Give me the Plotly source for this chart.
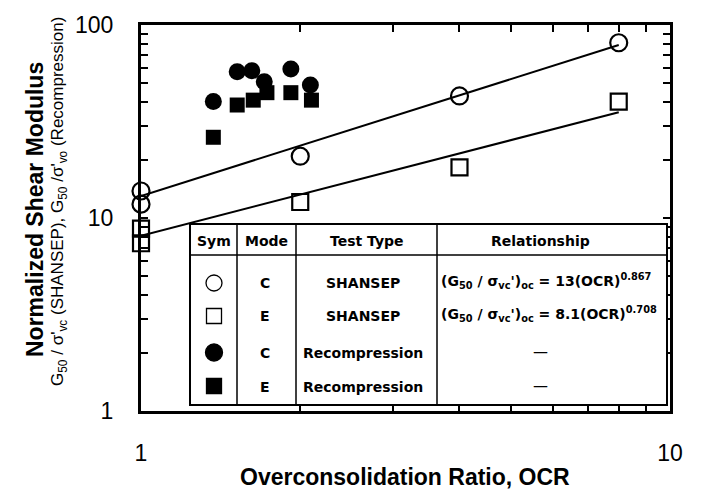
import plotly.graph_objects as go

# ---------------- data ----------------
ocr_shansep_c = [1, 1, 2, 4, 8]
g_shansep_c = [13.8, 11.8, 20.9, 42.9, 80.9]
ocr_shansep_e = [1, 1, 2, 4, 8]
g_shansep_e = [8.8, 7.4, 12.1, 18.3, 40.1]
ocr_recomp_c = [1.37, 1.52, 1.62, 1.71, 1.92, 2.09]
g_recomp_c = [40.1, 57.3, 58.0, 50.8, 59.2, 48.9]
ocr_recomp_e = [1.37, 1.52, 1.63, 1.73, 1.92, 2.10]
g_recomp_e = [26.2, 38.5, 40.8, 44.6, 44.6, 40.8]
fit_ocr = [1, 8]
fit_c = [13.0, 78.8]
fit_e = [8.1, 35.3]

x_tickvals = [1, 2, 3, 4, 5, 6, 7, 8, 9, 10]
x_ticktext = ["1", "", "", "", "", "", "", "", "", "10"]
y_tickvals = [1, 2, 3, 4, 5, 6, 7, 8, 9, 10, 20, 30, 40, 50, 60, 70, 80, 90, 100]
y_ticktext = ["1"] + [""] * 8 + ["10"] + [""] * 8 + ["100"]

# ---------------- layout helpers ----------------
OFF = 8  # page body margin
W, H = 702 - OFF, 492 - OFF
L, R, T, B = 141, 670, 25, 411  # plot area in window pixels


def px(x):
    return (x - L) / (R - L)


def py(y):
    return (B - y) / (B - T)


fig = go.Figure()
fig.add_trace(go.Scatter(x=fit_ocr, y=fit_c, mode="lines",
                         line=dict(color="black", width=2), showlegend=False))
fig.add_trace(go.Scatter(x=fit_ocr, y=fit_e, mode="lines",
                         line=dict(color="black", width=2), showlegend=False))
fig.add_trace(go.Scatter(x=ocr_shansep_c, y=g_shansep_c, mode="markers", cliponaxis=False,
                         marker=dict(symbol="circle-open", size=17, color="black",
                                     line=dict(width=2.2, color="black")), showlegend=False))
fig.add_trace(go.Scatter(x=ocr_shansep_e, y=g_shansep_e, mode="markers", cliponaxis=False,
                         marker=dict(symbol="square-open", size=16, color="black",
                                     line=dict(width=2.2, color="black")), showlegend=False))
fig.add_trace(go.Scatter(x=ocr_recomp_c, y=g_recomp_c, mode="markers", cliponaxis=False,
                         marker=dict(symbol="circle", size=17, color="black",
                                     line=dict(width=0)), showlegend=False))
fig.add_trace(go.Scatter(x=ocr_recomp_e, y=g_recomp_e, mode="markers", cliponaxis=False,
                         marker=dict(symbol="square", size=15, color="black",
                                     line=dict(width=0)), showlegend=False))

axis_font = dict(family="Liberation Sans, Arial", size=23, color="black")
fig.update_xaxes(type="log", range=[0, 1], tickvals=x_tickvals, ticktext=x_ticktext,
                 ticks="inside", ticklen=7, tickwidth=2, tickcolor="black",
                 showline=True, linewidth=3, linecolor="black", mirror="ticks",
                 showgrid=False, zeroline=False, tickfont=axis_font, ticklabelstandoff=19,
                 automargin=False)
fig.update_yaxes(type="log", range=[0, 2], tickvals=y_tickvals, ticktext=y_ticktext,
                 ticks="inside", ticklen=7, tickwidth=2, tickcolor="black",
                 showline=True, linewidth=3, linecolor="black", mirror="ticks",
                 showgrid=False, zeroline=False, tickfont=axis_font, ticklabelstandoff=20,
                 automargin=False)

shapes = []
annotations = []

# table
tx0, tx1, ty0, ty1 = 190, 667, 224, 405
shapes.append(dict(type="rect", xref="paper", yref="paper", layer="above",
                   x0=px(tx0), x1=px(tx1), y0=py(ty1), y1=py(ty0),
                   line=dict(color="black", width=2), fillcolor="white"))
for cx in [237, 296, 437]:
    shapes.append(dict(type="line", xref="paper", yref="paper", layer="above",
                       x0=px(cx), x1=px(cx), y0=py(ty1), y1=py(ty0),
                       line=dict(color="black", width=1.5)))
shapes.append(dict(type="line", xref="paper", yref="paper", layer="above",
                   x0=px(tx0), x1=px(tx1), y0=py(255), y1=py(255),
                   line=dict(color="black", width=1.5)))

# legend symbols
sx = 214
for (cy, kind, filled, half) in [(283, "circle", False, 8), (316, "rect", False, 7.5),
                                  (352.5, "circle", True, 8.5), (386, "rect", True, 7.5)]:
    shapes.append(dict(type=kind, xref="paper", yref="paper", layer="above",
                       x0=px(sx - half), x1=px(sx + half), y0=py(cy + half), y1=py(cy - half),
                       line=dict(color="black", width=1.3),
                       fillcolor="black" if filled else "white"))

tfont = dict(family="DejaVu Sans", size=14, color="black")


def txt(x, y, s, font=tfont, xanchor="center"):
    annotations.append(dict(xref="paper", yref="paper", x=px(x), y=py(y), text=s,
                            showarrow=False, xanchor=xanchor, yanchor="middle", font=font))


txt(214, 241, "<b>Sym</b>")
txt(266.5, 241, "<b>Mode</b>")
txt(366.5, 241, "<b>Test Type</b>")
txt(540, 241, "<b>Relationship</b>")
rows = [(283, "C", "SHANSEP"), (316, "E", "SHANSEP"),
        (353, "C", "Recompression"), (387, "E", "Recompression")]
for y, m, t in rows:
    txt(265, y, "<b>" + m + "</b>")
    txt(363, y, "<b>" + t + "</b>")
efont = dict(family="DejaVu Sans", size=14, color="black")
txt(439, 281, "<b>(G<sub>50</sub> / σ<sub>vc</sub>')<sub>oc</sub> = 13(OCR)<sup>0.867</sup></b>",
    font=efont, xanchor="left")
txt(439, 314, "<b>(G<sub>50</sub> / σ<sub>vc</sub>')<sub>oc</sub> = 8.1(OCR)<sup>0.708</sup></b>",
    font=efont, xanchor="left")
txt(540, 352, "—", font=dict(family="DejaVu Sans", size=15, color="black"))
txt(540, 386, "—", font=dict(family="DejaVu Sans", size=15, color="black"))

# axis titles
annotations.append(dict(xref="paper", yref="paper", x=px(405), y=py(477),
                        text="<b>Overconsolidation Ratio, OCR</b>", showarrow=False,
                        xanchor="center", yanchor="middle",
                        font=dict(family="Liberation Sans, Arial", size=23, color="black")))
annotations.append(dict(xref="paper", yref="paper", x=px(35), y=py(210),
                        text="<b>Normalized Shear Modulus</b>", showarrow=False, textangle=-90,
                        xanchor="center", yanchor="middle",
                        font=dict(family="Liberation Sans, Arial", size=23, color="black")))
annotations.append(dict(xref="paper", yref="paper", x=px(59), y=py(202),
                        text="G<sub>50</sub> / σ'<sub>vc</sub> (SHANSEP), G<sub>50</sub> /σ'<sub>vo</sub> (Recompression)",
                        showarrow=False, textangle=-90, xanchor="center", yanchor="middle",
                        font=dict(family="Liberation Sans, Arial", size=17, color="black")))

fig.update_layout(width=W, height=H,
                  margin=dict(l=L - OFF, r=W - (R - OFF), t=T - OFF, b=H - (B - OFF)),
                  paper_bgcolor="white", plot_bgcolor="white",
                  shapes=shapes, annotations=annotations, showlegend=False)

fig.write_html("out.html")
